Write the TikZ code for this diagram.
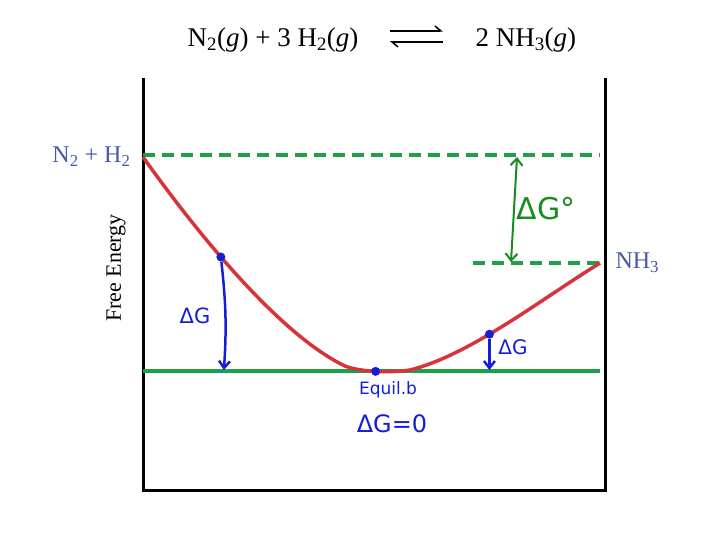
\documentclass[tikz,border=0pt]{standalone}
\usepackage{fontspec}
\setmainfont{Liberation Serif}
\newfontfamily\handfont{DejaVu Sans}
\usetikzlibrary{arrows.meta,calc}

\definecolor{lblblue}{RGB}{70,88,170}
\definecolor{curvered}{RGB}{214,52,58}
\definecolor{levelgreen}{RGB}{30,160,75}
\definecolor{arrowgreen}{RGB}{25,140,30}
\definecolor{penblue}{RGB}{20,30,215}

\begin{document}
\begin{tikzpicture}[x=1pt,y=-1pt,
  level/.style={line width=4pt, draw=levelgreen},
  dashlevel/.style={level, dash pattern=on 12pt off 7pt},
  pen/.style={line width=2.5pt, draw=penblue, -{Straight Barb[length=7pt,width=11pt]}},
  dot/.style={circle, fill=penblue, inner sep=0pt, minimum size=9pt},
  hand/.style={text=penblue, font=\handfont}]
\useasboundingbox (0,0) rectangle (720,540);
% reaction line
\node[anchor=base east, font=\fontsize{27}{32}\selectfont] (lhs) at (362,47) {N\textsubscript{2}(\textit{g}) + 3 H\textsubscript{2}(\textit{g})};
\node[anchor=base west, font=\fontsize{27}{32}\selectfont] (rhs) at (472,47) {2 NH\textsubscript{3}(\textit{g})};
\coordinate (fwdL) at (390,31); \coordinate (fwdR) at (443,31);
\coordinate (revL) at (390,42); \coordinate (revR) at (443,42);
\draw[line width=1.5pt, -{Straight Barb[harpoon,length=6pt,width=10pt]}] (fwdL) -- (fwdR);
\draw[line width=1.5pt, -{Straight Barb[harpoon,length=6pt,width=10pt]}] (revR) -- (revL);
% frame
\coordinate (boxTL) at (143,78); \coordinate (boxBL) at (143,490);
\coordinate (boxBR) at (605,490); \coordinate (boxTR) at (605,78);
\draw[line width=3pt] (boxTL) -- (boxBL) -- (boxBR) -- (boxTR);
\node[rotate=90, font=\fontsize{22}{26}\selectfont] (ylab) at (116,268) {Free Energy};
% levels
\coordinate (topL) at (143,155); \coordinate (topR) at (600,155);
\coordinate (prodL) at (473,263); \coordinate (prodR) at (600,263);
\coordinate (eqL) at (143,371); \coordinate (eqR) at (600,371);
\draw[dashlevel] (topL) -- (topR);
\draw[dashlevel] (prodL) -- (prodR);
\draw[level] (eqL) -- (eqR);
\node[anchor=east, text=lblblue, font=\fontsize{24}{28}\selectfont] (react) at (134,157) {N\textsubscript{2} + H\textsubscript{2}};
\node[anchor=west, text=lblblue, font=\fontsize{24}{28}\selectfont] (prod) at (612,263) {NH\textsubscript{3}};
% free energy curve
\draw[curvered, line width=3.5pt] (143,157) .. controls (215,258) and (290,340) .. (345,366) coordinate[pos=0.36] (p1)
  .. controls (360,372) and (390,373) .. (410,370) coordinate[pos=0.5] (p2)
  .. controls (470,355) and (540,300) .. (600,263) coordinate[pos=0.42] (p3);
\node[dot] (d1) at (p1) {};
\node[dot] (d2) at (p2) {};
\node[dot] (d3) at (p3) {};
% pen marks
\draw[pen, shorten >=1pt] (d1) to[bend left=5] ($(d1 |- eqL)+(3,0)$);
\draw[pen, shorten >=1pt] (d3) -- (d3 |- eqL);
\node[hand, font=\handfont\fontsize{21}{24}\selectfont] (dgL) at (195,316) {ΔG};
\node[hand, font=\handfont\fontsize{20}{24}\selectfont] (dgR) at (513,347) {ΔG};
\node[hand, font=\handfont\fontsize{17}{20}\selectfont] (eqlb) at (388,390) {Equil.b};
\node[hand, font=\handfont\fontsize{24}{28}\selectfont] (dgzero) at (392,424) {ΔG=0};
\coordinate (gTop) at (517,157); \coordinate (gBot) at (511,262);
\draw[line width=2pt, draw=arrowgreen, {Straight Barb[length=7pt,width=12pt]}-{Straight Barb[length=7pt,width=12pt]}] (gTop) -- (gBot);
\node[text=arrowgreen, font=\handfont\fontsize{30}{34}\selectfont] (dgstd) at (546,209) {ΔG°};
\end{tikzpicture}
\end{document}
